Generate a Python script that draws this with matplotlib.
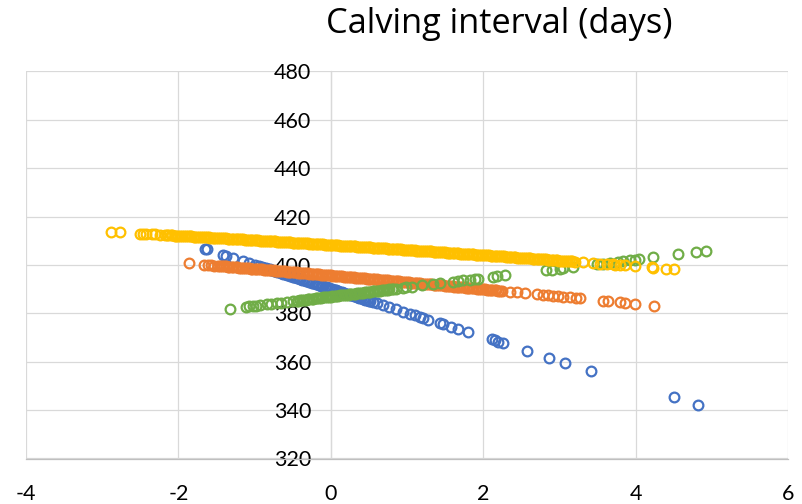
import matplotlib
matplotlib.use("Agg")
import matplotlib.pyplot as plt

plt.rcParams['font.family'] = ['Lato', 'DejaVu Sans']

title = "Calving interval (days)"
x_ticks = [-4, -2, 0, 2, 4, 6]
y_ticks = [320, 340, 360, 380, 400, 420, 440, 460, 480]

# series 1 (blue)
blue_x = [-1.65, -1.63, -1.41, -1.37, -1.28, -1.15, -1.08, -1.0, -0.94,
          -0.9, -0.88, -0.85, -0.83, -0.8, -0.78, -0.75, -0.73, -0.7, -0.68,
          -0.65, -0.63, -0.6, -0.58, -0.55, -0.53, -0.5, -0.48, -0.45, -0.43,
          -0.4, -0.38, -0.35, -0.33, -0.3, -0.28, -0.25, -0.23, -0.2, -0.18,
          -0.15, -0.13, -0.1, -0.08, -0.05, -0.03, 0.0, 0.02, 0.05, 0.07,
          0.1, 0.12, 0.15, 0.17, 0.2, 0.22, 0.25, 0.27, 0.3, 0.32,
          0.35, 0.37, 0.4, 0.42, 0.45, 0.47, 0.5, 0.52, 0.55,
          0.6, 0.69, 0.77, 0.86, 0.95, 1.04, 1.1, 1.17, 1.21, 1.28,
          1.43, 1.47, 1.58, 1.67, 1.8, 2.11, 2.15, 2.2, 2.26, 2.57,
          2.87, 3.07, 3.42, 4.51, 4.82]
blue_y = [406.62, 406.42, 404.23, 403.83, 402.94, 401.64, 400.95, 400.15, 399.55,
          399.16, 398.96, 398.66, 398.46, 398.16, 397.96, 397.66, 397.46, 397.17, 396.97,
          396.67, 396.47, 396.17, 395.97, 395.67, 395.47, 395.18, 394.98, 394.68, 394.48,
          394.18, 393.98, 393.68, 393.48, 393.19, 392.99, 392.69, 392.49, 392.19, 391.99,
          391.69, 391.49, 391.2, 391.0, 390.7, 390.5, 390.2, 390.0, 389.7, 389.5,
          389.2, 389.01, 388.71, 388.51, 388.21, 388.01, 387.71, 387.51, 387.22, 387.02,
          386.72, 386.52, 386.22, 386.02, 385.72, 385.52, 385.23, 385.03, 384.73,
          384.23, 383.33, 382.54, 381.64, 380.75, 379.85, 379.26, 378.56, 378.16, 377.46,
          375.97, 375.57, 374.48, 373.58, 372.29, 369.21, 368.81, 368.31, 367.71, 364.63,
          361.64, 359.65, 356.17, 345.33, 342.24]

# series 2 (orange)
orange_x = [-1.86, -1.66, -1.61, -1.57, -1.53, -1.48,
            -1.45, -1.43, -1.4, -1.38, -1.35, -1.33, -1.3, -1.28, -1.25, -1.23,
            -1.2, -1.18, -1.15, -1.13, -1.1, -1.08, -1.05, -1.03, -1.0, -0.98,
            -0.95, -0.93, -0.9, -0.88, -0.85, -0.83, -0.8, -0.78, -0.75, -0.73,
            -0.7, -0.68, -0.65, -0.63, -0.6, -0.58, -0.55, -0.53, -0.5, -0.48,
            -0.45, -0.43, -0.4, -0.38, -0.35, -0.33, -0.3, -0.28, -0.25, -0.23,
            -0.2, -0.18, -0.15, -0.13, -0.1, -0.08, -0.05, -0.03, 0.0, 0.02,
            0.05, 0.07, 0.1, 0.12, 0.15, 0.17, 0.2, 0.22, 0.25, 0.27,
            0.3, 0.32, 0.35, 0.37, 0.4, 0.42, 0.45, 0.47, 0.5, 0.52,
            0.55, 0.57, 0.6, 0.62, 0.65, 0.67, 0.7, 0.72, 0.75, 0.77,
            0.8, 0.82, 0.85, 0.87, 0.9, 0.92, 0.95, 0.97, 1.0, 1.02,
            1.05, 1.07, 1.1, 1.12, 1.15, 1.17, 1.2, 1.22, 1.25, 1.27,
            1.3, 1.32, 1.35, 1.37, 1.4, 1.42, 1.45, 1.47, 1.5, 1.52,
            1.55, 1.57, 1.6, 1.62, 1.65, 1.67, 1.7, 1.72, 1.75, 1.77,
            1.8, 1.82, 1.85, 1.87, 1.9, 1.92, 1.95, 1.97, 2.0, 2.02,
            2.05, 2.07, 2.1, 2.12, 2.15, 2.17, 2.2, 2.22, 2.25,
            2.35, 2.44, 2.55, 2.71, 2.79, 2.85, 2.92, 2.98, 3.05, 3.14,
            3.22, 3.27, 3.57, 3.64, 3.79, 3.86, 3.99, 4.24]
orange_y = [400.64, 400.13, 400.0, 399.9, 399.79, 399.66,
            399.6, 399.54, 399.46, 399.41, 399.32, 399.27, 399.19, 399.13, 399.05, 398.99,
            398.94, 398.88, 398.8, 398.75, 398.66, 398.61, 398.53, 398.47, 398.39, 398.33,
            398.28, 398.22, 398.14, 398.09, 398.0, 397.95, 397.87, 397.81, 397.73, 397.67,
            397.6, 397.54, 397.46, 397.41, 397.32, 397.27, 397.19, 397.13, 397.05, 396.99,
            396.93, 396.87, 396.79, 396.74, 396.65, 396.6, 396.52, 396.46, 396.38, 396.32,
            396.25, 396.19, 396.11, 396.06, 395.97, 395.92, 395.84, 395.78, 395.7, 395.64,
            395.56, 395.5, 395.42, 395.37, 395.28, 395.23, 395.15, 395.09, 395.01, 394.95,
            394.87, 394.81, 394.73, 394.68, 394.59, 394.54, 394.46, 394.4, 394.32, 394.26,
            394.17, 394.11, 394.03, 393.98, 393.89, 393.84, 393.76, 393.7, 393.62, 393.56,
            393.46, 393.4, 393.32, 393.27, 393.18, 393.13, 393.05, 392.99, 392.91, 392.85,
            392.74, 392.68, 392.6, 392.55, 392.46, 392.41, 392.33, 392.27, 392.19, 392.13,
            392.03, 391.97, 391.89, 391.84, 391.75, 391.7, 391.62, 391.56, 391.48, 391.42,
            391.3, 391.24, 391.16, 391.11, 391.02, 390.97, 390.89, 390.83, 390.75, 390.69,
            390.57, 390.51, 390.43, 390.38, 390.29, 390.24, 390.16, 390.1, 390.02, 389.96,
            389.83, 389.77, 389.69, 389.64, 389.55, 389.5, 389.42, 389.36, 389.28,
            388.96, 388.69, 388.36, 387.88, 387.64, 387.45, 387.24, 387.07, 386.84, 386.58,
            386.33, 386.18, 385.24, 385.03, 384.56, 384.34, 383.93, 383.14]

# series 3 (green)
green_x = [-1.32, -1.11, -1.07, -1.02, -0.98, -0.93, -0.84, -0.78, -0.71, -0.65, -0.58, -0.5,
           -0.45, -0.43, -0.4, -0.38, -0.35, -0.33, -0.3, -0.28, -0.25, -0.23,
           -0.2, -0.18, -0.15, -0.13, -0.1, -0.08, -0.05, -0.03, 0.0, 0.02,
           0.05, 0.07, 0.1, 0.12, 0.15, 0.17, 0.2, 0.22, 0.25, 0.27,
           0.3, 0.32, 0.35, 0.37, 0.4, 0.42, 0.45, 0.47, 0.5, 0.52,
           0.55, 0.57, 0.6, 0.62, 0.65, 0.67, 0.7, 0.72, 0.75, 0.77, 0.8, 0.82,
           0.86, 0.95, 0.99, 1.06, 1.2, 1.34, 1.43, 1.61, 1.67, 1.74,
           1.83, 1.89, 1.93, 2.13, 2.18, 2.29, 2.83, 2.9, 3.01, 3.05,
           3.18, 3.49, 3.57, 3.66, 3.77, 3.84, 3.92, 3.99, 4.05, 4.23,
           4.56, 4.79, 4.93]
green_y = [381.91, 382.71, 382.86, 383.05, 383.21, 383.4, 383.74, 383.97, 384.24, 384.47, 384.73, 385.04,
           385.23, 385.31, 385.42, 385.5, 385.61, 385.69, 385.8, 385.88, 385.99, 386.07,
           386.19, 386.27, 386.38, 386.46, 386.57, 386.65, 386.76, 386.84, 386.95, 387.03,
           387.14, 387.22, 387.33, 387.41, 387.52, 387.6, 387.71, 387.79, 387.9, 387.98,
           388.1, 388.18, 388.29, 388.37, 388.48, 388.56, 388.67, 388.75, 388.86, 388.94,
           389.05, 389.13, 389.24, 389.32, 389.43, 389.51, 389.62, 389.7, 389.81, 389.89, 390.01, 390.08,
           390.24, 390.58, 390.73, 391.0, 391.53, 392.07, 392.41, 393.1, 393.33, 393.6,
           393.94, 394.17, 394.32, 395.09, 395.28, 395.7, 397.76, 398.03, 398.45, 398.6,
           399.1, 400.28, 400.59, 400.93, 401.35, 401.62, 401.92, 402.19, 402.42, 403.11,
           404.37, 405.25, 405.78]

# series 4 (gold)
gold_x = [-2.89, -2.76, -2.51, -2.46, -2.42, -2.35, -2.31, -2.24, -2.18,
          -2.15, -2.13, -2.1, -2.08, -2.05, -2.03, -2.0, -1.98, -1.95, -1.93,
          -1.9, -1.88, -1.85, -1.83, -1.8, -1.78, -1.75, -1.73, -1.7, -1.68,
          -1.65, -1.63, -1.6, -1.58, -1.55, -1.53, -1.5, -1.48, -1.45, -1.43,
          -1.4, -1.38, -1.35, -1.33, -1.3, -1.28, -1.25, -1.23, -1.2, -1.18,
          -1.15, -1.13, -1.1, -1.08, -1.05, -1.03, -1.0, -0.98, -0.95, -0.93,
          -0.9, -0.88, -0.85, -0.83, -0.8, -0.78, -0.75, -0.73, -0.7, -0.68,
          -0.65, -0.63, -0.6, -0.58, -0.55, -0.53, -0.5, -0.48, -0.45, -0.43,
          -0.4, -0.38, -0.35, -0.33, -0.3, -0.28, -0.25, -0.23, -0.2, -0.18,
          -0.15, -0.13, -0.1, -0.08, -0.05, -0.03, 0.0, 0.02, 0.05, 0.07,
          0.1, 0.12, 0.15, 0.17, 0.2, 0.22, 0.25, 0.27, 0.3, 0.32,
          0.35, 0.37, 0.4, 0.42, 0.45, 0.47, 0.5, 0.52, 0.55, 0.57,
          0.6, 0.62, 0.65, 0.67, 0.7, 0.72, 0.75, 0.77, 0.8, 0.82,
          0.85, 0.87, 0.9, 0.92, 0.95, 0.97, 1.0, 1.02, 1.05, 1.07,
          1.1, 1.12, 1.15, 1.17, 1.2, 1.22, 1.25, 1.27, 1.3, 1.32,
          1.35, 1.37, 1.4, 1.42, 1.45, 1.47, 1.5, 1.52, 1.55, 1.57,
          1.6, 1.62, 1.65, 1.67, 1.7, 1.72, 1.75, 1.77, 1.8, 1.82,
          1.85, 1.87, 1.9, 1.92, 1.95, 1.97, 2.0, 2.02, 2.05, 2.07,
          2.1, 2.12, 2.15, 2.17, 2.2, 2.22, 2.25, 2.27, 2.3, 2.32,
          2.35, 2.37, 2.4, 2.42, 2.45, 2.47, 2.5, 2.52, 2.55, 2.57,
          2.6, 2.62, 2.65, 2.67, 2.7, 2.72, 2.75, 2.77, 2.8, 2.82,
          2.85, 2.87, 2.9, 2.92, 2.95, 2.97, 3.0, 3.02, 3.05, 3.07,
          3.1, 3.12, 3.15, 3.17, 3.2,
          3.31, 3.44, 3.53, 3.62, 3.7, 3.73, 3.79, 3.86, 3.99, 4.22,
          4.23, 4.4, 4.5]
gold_y = [413.66, 413.44, 413.0, 412.92, 412.85, 412.72, 412.65, 412.53, 412.42,
          412.39, 412.35, 412.29, 412.25, 412.19, 412.15, 412.09, 412.05, 411.99, 411.95,
          411.94, 411.9, 411.84, 411.8, 411.74, 411.7, 411.64, 411.6, 411.54, 411.5,
          411.48, 411.44, 411.38, 411.34, 411.28, 411.24, 411.18, 411.14, 411.08, 411.04,
          411.02, 410.98, 410.92, 410.88, 410.82, 410.78, 410.72, 410.68, 410.62, 410.58,
          410.55, 410.51, 410.45, 410.41, 410.35, 410.31, 410.25, 410.21, 410.15, 410.11,
          410.07, 410.03, 409.97, 409.93, 409.87, 409.83, 409.77, 409.73, 409.67, 409.63,
          409.59, 409.55, 409.49, 409.45, 409.39, 409.35, 409.29, 409.25, 409.19, 409.15,
          409.1, 409.06, 409.0, 408.96, 408.9, 408.86, 408.8, 408.76, 408.7, 408.66,
          408.6, 408.56, 408.5, 408.46, 408.4, 408.36, 408.3, 408.26, 408.2, 408.16,
          408.1, 408.06, 408.0, 407.96, 407.9, 407.86, 407.8, 407.76, 407.7, 407.66,
          407.59, 407.55, 407.49, 407.45, 407.39, 407.35, 407.29, 407.25, 407.19, 407.15,
          407.07, 407.03, 406.97, 406.93, 406.87, 406.83, 406.77, 406.73, 406.67, 406.63,
          406.55, 406.51, 406.45, 406.41, 406.35, 406.31, 406.25, 406.21, 406.15, 406.11,
          406.03, 405.99, 405.93, 405.89, 405.83, 405.79, 405.73, 405.69, 405.63, 405.59,
          405.49, 405.45, 405.39, 405.35, 405.29, 405.25, 405.19, 405.15, 405.09, 405.05,
          404.95, 404.91, 404.85, 404.81, 404.75, 404.71, 404.65, 404.61, 404.55, 404.51,
          404.41, 404.37, 404.31, 404.27, 404.21, 404.17, 404.11, 404.07, 404.01, 403.97,
          403.86, 403.82, 403.76, 403.72, 403.66, 403.62, 403.56, 403.52, 403.46, 403.42,
          403.3, 403.26, 403.2, 403.16, 403.1, 403.06, 403.0, 402.96, 402.9, 402.86,
          402.73, 402.69, 402.63, 402.59, 402.53, 402.49, 402.43, 402.39, 402.33, 402.29,
          402.16, 402.12, 402.06, 402.02, 401.96, 401.92, 401.86, 401.82, 401.76, 401.72,
          401.6, 401.56, 401.5, 401.46, 401.4,
          401.13, 400.83, 400.62, 400.4, 400.22, 400.14, 400.0, 399.83, 399.52, 398.97,
          398.94, 398.53, 398.29]

fig = plt.figure(figsize=(8.03, 5.04), dpi=100)
ax = fig.add_axes([26 / 803, 1 - 458.5 / 504, 762 / 803, 387 / 504])

# Excel draws the series in order, later ones on top
series = [(blue_x, blue_y, '#4472C4'),
          (orange_x, orange_y, '#ED7D31'),
          (green_x, green_y, '#70AD47'),
          (gold_x, gold_y, '#FFC000')]
for xs, ys, col in series:
    ax.plot(xs, ys, 'o', linestyle='none', mfc='none', mec=col,
            ms=7.0, mew=1.6, zorder=3)

ax.set_xlim(-4, 6)
ax.set_ylim(320, 480)
ax.set_xticks(x_ticks)
ax.set_yticks(y_ticks)
ax.set_xticklabels([str(v) for v in x_ticks])
ax.set_yticklabels([str(v) for v in y_ticks])

ax.grid(True, color='#D9D9D9', linewidth=0.9)
ax.set_axisbelow(True)

# vertical axis crosses at x = 0
ax.spines['left'].set_position(('data', 0))
ax.spines['left'].set_color('#D9D9D9')
ax.spines['left'].set_linewidth(0.9)
ax.spines['bottom'].set_color('#BFBFBF')
ax.spines['bottom'].set_linewidth(0.9)
ax.spines['top'].set_visible(False)
ax.spines['right'].set_visible(False)

ax.tick_params(axis='y', length=0, pad=14, labelsize=15.5, colors='#000000')
ax.tick_params(axis='x', length=0, pad=18, labelsize=15.5, colors='#000000')

# title: fit its width to the reference (about 347 px wide)
t = fig.text(499 / 803, 1 - 33 / 504, title, ha='center', va='baseline',
             fontsize=22, family=['Open Sans', 'DejaVu Sans'])
fig.canvas.draw()
w = t.get_window_extent().width
t.set_fontsize(22 * 347 / w)

fig.savefig('out.png', dpi=100)
